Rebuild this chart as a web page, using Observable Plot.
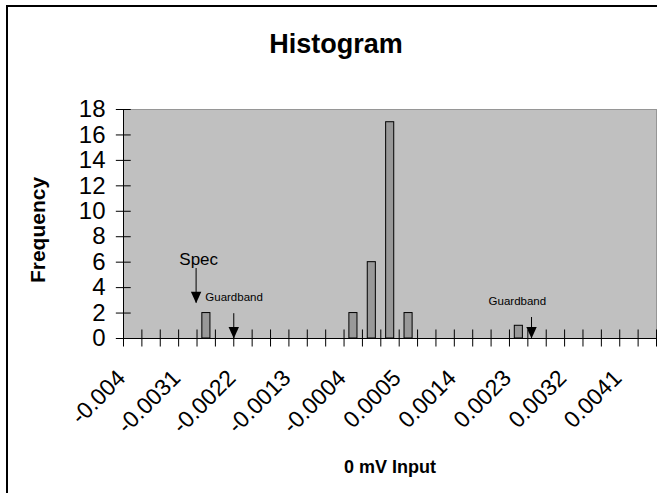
<!DOCTYPE html>
<html>
<head>
<meta charset="utf-8">
<script src="https://cdn.jsdelivr.net/npm/d3@7"></script>
<script src="https://cdn.jsdelivr.net/npm/@observablehq/plot@0.6"></script>
<style>
  html, body { margin: 0; padding: 0; background: #fff; }
  body { width: 657px; height: 493px; overflow: hidden; position: relative; font-family: "Liberation Sans", Arial, sans-serif; }
  #border { position: absolute; left: 6px; top: 5px; width: 800px; height: 700px; border-left: 2px solid #000; border-top: 2px solid #000; box-sizing: border-box; }
  #title { position: absolute; left: 0; top: 31px; width: 672px; text-align: center; font-weight: bold; font-size: 27px; line-height: 27px; color: #000; }
  #chart { position: absolute; left: 0; top: 0; }
</style>
</head>
<body>
<div id="border"></div>
<div id="chart"></div>
<div id="title">Histogram</div>
<script>
// Bin categories (Excel histogram bins), frequencies per bin
const categories = ["-0.004","-0.0037","-0.0034","-0.0031","-0.0028","-0.0025","-0.0022","-0.0019","-0.0016","-0.0013",
  "-0.001","-0.0007","-0.0004","-0.0001","0.0002","0.0005","0.0008","0.0011","0.0014","0.0017",
  "0.002","0.0023","0.0026","0.0029","0.0032","0.0035","0.0038","0.0041","More"];
const counts = [0,0,0,0,2,0,0,0,0,0, 0,0,2,6,17,2,0,0,0,0, 0,1,0,0,0,0,0,0,0];
// Tick labels shown on the category axis
const xTickLabels = ["-0.004","-0.0031","-0.0022","-0.0013","-0.0004","0.0005","0.0014","0.0023","0.0032","0.0041"];
const yTicks = [0,2,4,6,8,10,12,14,16,18];

// Annotations (in category-index / frequency units)
const arrowNames = ["Spec","Guardband","Guardband"];
const arrowX = [3.95, 6.0, 22.2];
const arrowTop = [5.5, 1.95, 1.65];
const arrowTip = [2.78, 0, 0];
const noteText = ["Spec","Guardband","Guardband"];
const noteX = [4.09, 4.45, 21.43];
const noteY = [6.2, 3.22, 2.9];
const noteAnchor = ["middle","start","middle"];
const noteSize = [17, 11.5, 11.5];

const bins = categories.map((c, i) => ({i, c, n: counts[i]}));
const labelled = xTickLabels.map(l => ({l, i: categories.indexOf(l)}));
const arrows = arrowNames.map((name, k) => ({name, x: arrowX[k], top: arrowTop[k], tip: arrowTip[k]}));
const notes = noteText.map((t, k) => ({t, x: noteX[k], y: noteY[k], a: noteAnchor[k], s: noteSize[k]}));
const edges = d3.range(categories.length + 1);

const downTriangle = {
  draw(ctx, size) {
    const r = Math.sqrt(size / Math.PI);
    ctx.moveTo(0, 0);
    ctx.lineTo(-r, -2.2 * r);
    ctx.lineTo(r, -2.2 * r);
    ctx.closePath();
  }
};

const plot = Plot.plot({
  width: 657,
  height: 493,
  marginLeft: 123,
  marginRight: 1,
  marginTop: 109,
  marginBottom: 155,
  style: {fontFamily: "'Liberation Sans', Arial, sans-serif", background: "transparent", color: "#000", overflow: "visible"},
  x: {type: "linear", domain: [0, categories.length], axis: null},
  y: {domain: [0, 18], axis: null},
  marks: [
    Plot.frame({fill: "#c0c0c0", stroke: "#969696"}),
    Plot.rectY(bins.filter(d => d.n > 0), {x1: d => d.i + 0.29, x2: d => d.i + 0.73, y1: 0, y2: "n", fill: "#999999", stroke: "#000", strokeWidth: 1}),
    Plot.ruleY([0], {stroke: "#000"}),
    Plot.ruleX([0], {stroke: "#000"}),
    Plot.ruleX(edges, {x: d => d, y1: -0.67, y2: 0.67, stroke: "#000"}),
    Plot.ruleY(yTicks, {y: d => d, x1: -0.39, x2: 0.42, stroke: "#000"}),
    Plot.axisY(yTicks, {anchor: "left", tickSize: 0, tickPadding: 18, fontSize: 24, label: null, tickFormat: d => String(d)}),
    Plot.text(labelled, {x: d => d.i + 0.5, y: 0, text: "l", rotate: -45, textAnchor: "end", lineAnchor: "bottom", dx: -6, dy: 41, fontSize: 23}),
    // arrows
    Plot.ruleX(arrows, {x: "x", y1: "top", y2: "tip", stroke: "#000", strokeWidth: 1}),
    Plot.dot(arrows, {x: "x", y: "tip", symbol: downTriangle, r: 5.2, fill: "#000", stroke: null}),
    Plot.text(notes.filter(d => d.a === "middle" && d.s > 12), {x: "x", y: "y", text: "t", textAnchor: "middle", fontSize: 17}),
    Plot.text(notes.filter(d => d.a === "start"), {x: "x", y: "y", text: "t", textAnchor: "start", fontSize: 11.5}),
    Plot.text(notes.filter(d => d.a === "middle" && d.s < 12), {x: "x", y: "y", text: "t", textAnchor: "middle", fontSize: 11.5}),
    // axis titles
    Plot.text(["Frequency"], {frameAnchor: "left", textAnchor: "middle", rotate: -90, dx: -85.5, dy: 6, fontSize: 21, fontWeight: "bold"}),
    Plot.text(["0 mV Input"], {frameAnchor: "bottom", textAnchor: "middle", lineAnchor: "bottom", dy: 134, fontSize: 18, fontWeight: "bold"})
  ]
});
document.getElementById("chart").appendChild(plot);
</script>
</body>
</html>
